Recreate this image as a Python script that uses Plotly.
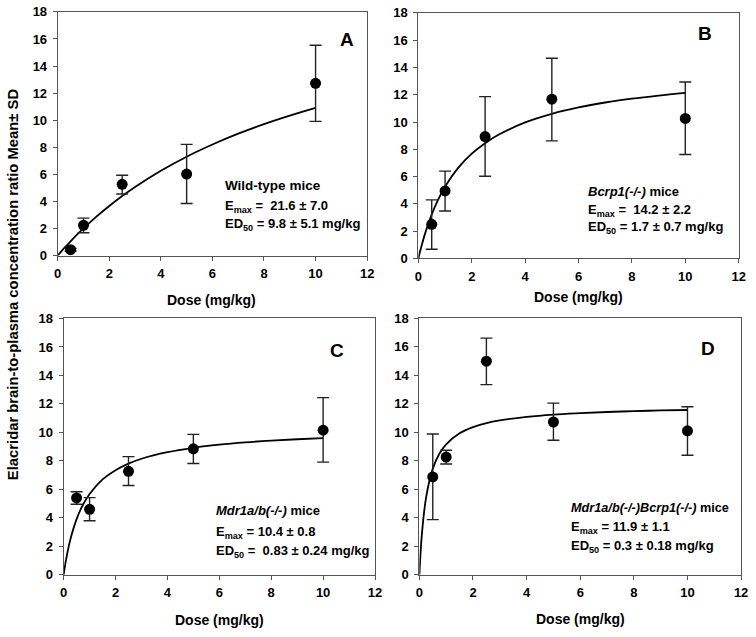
import plotly.graph_objects as go

W, H = 756, 637
FONT = "Liberation Sans, Arial, sans-serif"

dose = [0.5, 1, 2.5, 5, 10]

mean_A = [0.43, 2.23, 5.26, 6.02, 12.72]
up_A = [0.1, 0.53, 0.67, 2.19, 2.81]
dn_A = [0.1, 0.55, 0.72, 2.18, 2.81]

mean_B = [2.5, 4.95, 8.93, 11.67, 10.26]
up_B = [1.79, 1.45, 2.93, 3.0, 2.67]
dn_B = [1.83, 1.47, 2.91, 3.05, 2.64]

mean_C = [5.4, 4.6, 7.27, 8.85, 10.16]
up_C = [0.43, 0.82, 1.03, 1.01, 2.28]
dn_C = [0.44, 0.8, 1.0, 1.03, 2.25]

mean_D = [6.86, 8.25, 14.97, 10.71, 10.09]
up_D = [3.01, 0.48, 1.62, 1.32, 1.69]
dn_D = [2.99, 0.48, 1.64, 1.28, 1.71]

# fitted curves
curve_dose = [0, 0.05, 0.1, 0.25, 0.5, 0.75, 1, 1.5, 2, 2.5, 3, 4, 5, 6, 7, 8, 9, 10]
curve_A = [0, 0.11, 0.22, 0.54, 1.05, 1.54, 2.0, 2.87, 3.66, 4.39, 5.06, 6.26, 7.30, 8.20, 9.00, 9.71, 10.34, 10.91]
curve_B = [0, 0.41, 0.79, 1.82, 3.23, 4.35, 5.26, 6.66, 7.68, 8.45, 9.06, 9.97, 10.60, 11.07, 11.43, 11.71, 11.94, 12.14]
curve_C = [0, 0.59, 1.12, 2.41, 3.91, 4.94, 5.68, 6.70, 7.35, 7.81, 8.15, 8.61, 8.92, 9.14, 9.30, 9.42, 9.52, 9.60]
curve_D = [0, 1.70, 2.98, 5.41, 7.44, 8.50, 9.15, 9.92, 10.35, 10.63, 10.82, 11.07, 11.23, 11.33, 11.41, 11.47, 11.52, 11.55]

x_ticks = [0, 2, 4, 6, 8, 10, 12]
y_ticks = [0, 2, 4, 6, 8, 10, 12, 14, 16, 18]

panel_letters = ["A", "B", "C", "D"]
panel_labels = [
    "Wild-type mice",
    "<i>Bcrp1(-/-)</i> mice",
    "<i>Mdr1a/b(-/-)</i> mice",
    "<i>Mdr1a/b(-/-)Bcrp1(-/-)</i> mice",
]
emax_text = [
    "E<sub>max</sub> =  21.6 ± 7.0",
    "E<sub>max</sub> =  14.2 ± 2.2",
    "E<sub>max</sub> = 10.4 ± 0.8",
    "E<sub>max</sub> = 11.9 ± 1.1",
]
ed50_text = [
    "ED<sub>50</sub> = 9.8 ± 5.1 mg/kg",
    "ED<sub>50</sub> = 1.7 ± 0.7 mg/kg",
    "ED<sub>50</sub> =  0.83 ± 0.24 mg/kg",
    "ED<sub>50</sub> = 0.3 ± 0.18 mg/kg",
]
x_title = "Dose (mg/kg)"
y_title = "Elacridar brain-to-plasma concentration ratio Mean± SD"

means = [mean_A, mean_B, mean_C, mean_D]
ups = [up_A, up_B, up_C, up_D]
dns = [dn_A, dn_B, dn_C, dn_D]
curves = [curve_A, curve_B, curve_C, curve_D]

# panel plot areas in pixels: left, right, top, bottom
boxes = [
    (54.5, 368.5, 5, 254.5),
    (420.5, 745.5, 6, 257.5),
    (60.5, 376.5, 319, 581.5),
    (421.5, 748, 318.5, 581.5),
]
# text positions (pixels)
letter_pos = [(348, 33), (711, 27), (338, 352), (714, 350)]
label_pos = [(222, 183, 204, 223), (591, 189, 208, 226), (213, 516, 538, 558), (573, 513, 533, 553)]
label_size = [13.5, 13, 13, 12.7]
xtitle_pos = [(211, 300), (583, 297), (219, 628), (585, 627)]

def fx(px):
    return px / W

def fy(py):
    return 1 - py / H

fig = go.Figure()
annotations = []
for i in range(4):
    sfx = "" if i == 0 else str(i + 1)
    xa = "x" + sfx
    ya = "y" + sfx
    l, r, t, b = boxes[i]
    fig.add_trace(go.Scatter(
        x=curve_dose, y=curves[i], mode="lines", line=dict(color="black", width=1.8, shape="spline"),
        xaxis=xa, yaxis=ya, showlegend=False, hoverinfo="skip"))
    fig.add_trace(go.Scatter(
        x=dose, y=means[i], mode="markers",
        marker=dict(color="black", size=11),
        error_y=dict(type="data", symmetric=False, array=ups[i], arrayminus=dns[i],
                     color="#222222", thickness=1.4, width=6),
        xaxis=xa, yaxis=ya, showlegend=False))
    axis_common = dict(showline=True, linecolor="#555555", linewidth=1, mirror=True,
                       ticks="outside", ticklen=4, tickcolor="#555555", showgrid=False, zeroline=False,
                       ticklabeloverflow="allow",
                       tickfont=dict(family=FONT, size=13, color="black", weight="bold"))
    fig.layout["xaxis" + sfx] = dict(axis_common, domain=[fx(l), fx(r)], range=[0, 12], tickvals=x_ticks,
                                      anchor=ya, ticklabelstandoff=2)
    fig.layout["yaxis" + sfx] = dict(axis_common, domain=[fy(b), fy(t)], range=[0, 18], tickvals=y_ticks,
                                      anchor=xa, ticklabelstandoff=3)
    lx, ly = letter_pos[i]
    annotations.append(dict(text=panel_letters[i], x=fx(lx), y=fy(ly), xref="paper", yref="paper",
                            showarrow=False, xanchor="center", yanchor="middle",
                            font=dict(family=FONT, size=19, color="black", weight="bold")))
    tx, y1, y2, y3 = label_pos[i]
    for txt, yy, sz in [(panel_labels[i], y1, label_size[i]), (emax_text[i], y2, 13), (ed50_text[i], y3, 13)]:
        annotations.append(dict(text=txt, x=fx(tx), y=fy(yy), xref="paper", yref="paper",
                                showarrow=False, xanchor="left", yanchor="middle", align="left",
                                font=dict(family=FONT, size=sz, color="black", weight="bold")))
    dx, dy = xtitle_pos[i]
    annotations.append(dict(text=x_title, x=fx(dx), y=fy(dy), xref="paper", yref="paper",
                            showarrow=False, xanchor="center", yanchor="middle",
                            font=dict(family=FONT, size=14, color="black", weight="bold")))

annotations.append(dict(text=y_title, x=fx(9), y=fy(284), xref="paper", yref="paper", textangle=-90,
                        showarrow=False, xanchor="center", yanchor="middle",
                        font=dict(family=FONT, size=14.8, color="black", weight="bold")))

fig.update_layout(width=W, height=H, margin=dict(l=0, r=0, t=0, b=0),
                  paper_bgcolor="white", plot_bgcolor="white",
                  annotations=annotations)
fig.write_html("out.html", config={"displayModeBar": False},
               post_script="document.body.style.margin='0';document.body.style.overflow='hidden';")
